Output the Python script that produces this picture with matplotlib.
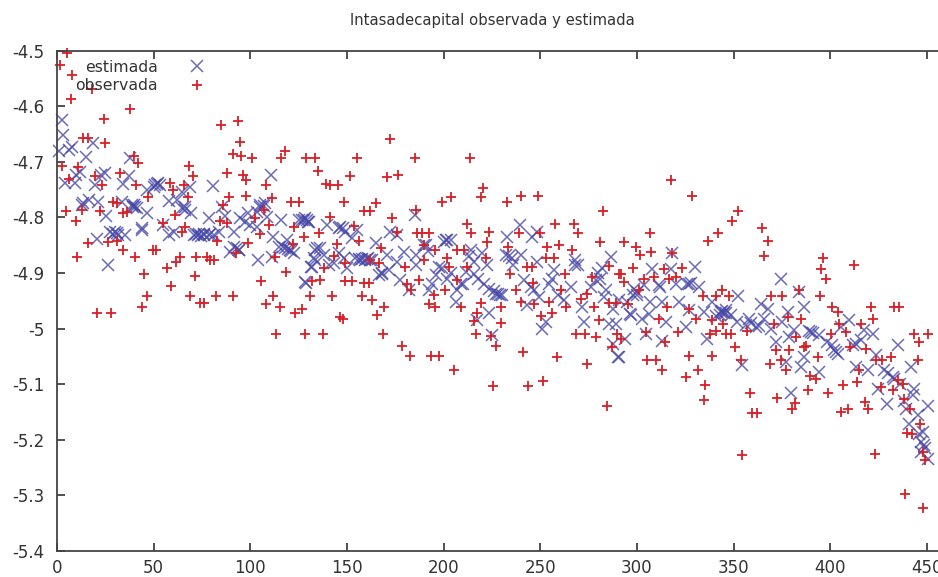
import matplotlib
matplotlib.use('Agg')
import matplotlib.pyplot as plt

# Values, [index, value] per mark
estimada_a = [[2.8,-4.625],[3.3,-4.652],[1.2,-4.68],[6,-4.679],[7.6,-4.674],[15,-4.691],[18.8,-4.666],[38,-4.694],
    [4,-4.739],[9.3,-4.739],[10,-4.724],[12,-4.718],[19.7,-4.742],[23,-4.724],[25,-4.721],[34,-4.74],[37,-4.726],
    [110.7,-4.723],[80.7,-4.744],[46.5,-4.75],[50,-4.745],[52,-4.739],[53.4,-4.741],[69,-4.745],[64.6,-4.754],
    [57.7,-4.77],[62,-4.769],[13.6,-4.774],[16.8,-4.769],[21.4,-4.772],[12.8,-4.778],[25.4,-4.798],[33.5,-4.772],
    [38.7,-4.778],[40.4,-4.781],[41.6,-4.784],[46.5,-4.793],[64.6,-4.784],[66.4,-4.781],[69.3,-4.793],[85.3,-4.781],
    [87,-4.798],[105.2,-4.778],[107.8,-4.775],[103.5,-4.79],[98.6,-4.793],[108.7,-4.799],[116,-4.804],[125,-4.805],
    [128.5,-4.802],[130,-4.808],[94.8,-4.802],[97.4,-4.808],[78.4,-4.802],[27.5,-4.826],[30,-4.826],[31.8,-4.832],
    [35.2,-4.832],[20.5,-4.839],[43.9,-4.82],[55,-4.814],[57.7,-4.832],[60.3,-4.826],[71,-4.832],[73.2,-4.832],
    [75.8,-4.832],[78.4,-4.832],[81,-4.832],[83.6,-4.826],[91.4,-4.826],[100,-4.814],[103.5,-4.817],[112,-4.836],
    [119,-4.841],[91.4,-4.853],[94,-4.859],[114.7,-4.853],[118,-4.856],[120.4,-4.859],[122.5,-4.865],[89.3,-4.862],
    [103.8,-4.876],[26.6,-4.886],[111.2,-4.871],[134.5,-4.856],[133.7,-4.877],[131.4,-4.889],[129,-4.918]]
estimada_b = [[127.6,-4.805],[130.2,-4.808],[139.7,-4.814],[146.6,-4.817],[149.2,-4.826],[152.7,-4.838],[155.3,-4.823],
    [164.8,-4.847],[172.5,-4.826],[176,-4.832],[185,-4.796],[190.7,-4.85],[201,-4.841],[203.6,-4.841],[214,-4.859],
    [220,-4.864],[233,-4.836],[239.5,-4.814],[246,-4.835],[248.5,-4.826],[133.7,-4.859],[136.3,-4.856],[132.8,-4.874],
    [138,-4.868],[145.8,-4.865],[148.4,-4.874],[143.2,-4.883],[132,-4.889],[140.6,-4.886],[150,-4.892],[154.4,-4.874],
    [157,-4.876],[159.6,-4.876],[162,-4.876],[166.5,-4.904],[168.2,-4.901],[170.8,-4.868],[171.7,-4.895],[176,-4.88],
    [179.4,-4.862],[185.5,-4.868],[185.5,-4.886],[177.7,-4.913],[182,-4.931],[194,-4.919],[197.6,-4.889],[195.9,-4.904],
    [192.4,-4.931],[201.9,-4.91],[207,-4.931],[208.8,-4.919],[206.2,-4.952],[211.4,-4.898],[215.7,-4.88],[222.6,-4.886],
    [215.7,-4.901],[220.9,-4.919],[223.5,-4.928],[227,-4.937],[230.4,-4.94],[223.5,-4.972],[217.4,-4.985],[225.2,-5.012],
    [232.1,-4.868],[235.6,-4.874],[239.9,-4.868],[248.5,-4.88],[241.6,-4.913],[245,-4.925],[249.4,-4.943],[243.3,-4.958],
    [254.6,-4.919],[257.2,-4.895],[265.8,-4.925],[262.3,-4.949],[252.8,-4.988],[251.1,-5.0],[267.9,-4.877],[269.3,-4.886],
    [272.7,-4.988],[271.8,-4.961],[278.8,-4.913],[282.2,-4.892],[286.5,-4.871],[283,-4.943],[287.4,-4.964],[285.7,-4.991],
    [289,-4.991],[287.4,-5.027],[290,-5.051],[128.5,-4.916],[276.2,-4.925]]
estimada_c = [[318.3,-4.865],[308,-4.893],[330,-4.89],[317.5,-4.893],[311.4,-4.922],[320.4,-4.919],[327,-4.919],[332,-4.925],
    [298.5,-4.928],[300.2,-4.94],[303.7,-4.922],[295,-4.952],[290.7,-4.949],[307,-4.952],[313,-4.952],[321.8,-4.952],
    [327,-4.967],[306.2,-4.973],[296.7,-4.973],[302.8,-4.982],[314.9,-4.988],[325.2,-4.997],[304.5,-5.009],[313.2,-5.022],
    [294,-5.018],[290.7,-5.051],[334.7,-4.97],[339,-4.952],[343.4,-4.97],[346,-4.967],[348.6,-4.976],[352.4,-4.942],
    [352,-4.988],[356.3,-4.994],[358,-4.982],[361.5,-4.997],[336.5,-5.018],[364,-4.955],[367.6,-4.964],[365.8,-4.982],
    [369.3,-5.0],[374.8,-4.911],[384,-4.934],[386.6,-4.962],[375.3,-4.988],[371.9,-5.024],[381.4,-5.003],[378.8,-5.015],
    [378,-4.97],[390,-5.006],[394.3,-5.012],[398.6,-5.024],[403,-5.042],[386.6,-5.051],[384.8,-5.07],[377,-5.06],
    [354.6,-5.066],[394.3,-5.078],[379.6,-5.115],[410,-4.985],[405.6,-4.997],[422,-5.009],[417.7,-5.003],[413.3,-5.027],
    [435,-5.03],[441.8,-5.07],[419.4,-5.075],[413.3,-5.069],[423.7,-5.048],[428,-5.075],[432.3,-5.087],[424.5,-5.108],
    [443.6,-5.108],[429.4,-5.136],[439.2,-5.144],[450.5,-5.139],[445.3,-5.156],[441,-5.172],[447.9,-5.186],[447,-5.204],
    [448.7,-5.21],[447,-5.222],[450.5,-5.234]]
# marks that sit on top of one another inside the dense band
estimada_d = [[50.5,-4.742],[51.5,-4.74],[44,-4.822],[73.5,-4.83],[76,-4.83],[74.5,-4.833],[72,-4.83],[79,-4.83],
    [31,-4.828],[29,-4.83],[40,-4.778],[39.5,-4.782],[66,-4.786],[94,-4.858],[93,-4.855],[105,-4.782],[107,-4.78],
    [117,-4.853],[119.5,-4.857],[121,-4.86],[127,-4.805],[129.5,-4.804],[158,-4.875],[160.5,-4.875],[163,-4.877],
    [161,-4.874],[156,-4.875],[146,-4.82],[148,-4.82],[190,-4.85],[192,-4.86],[168,-4.9],[200,-4.845],[202,-4.84],
    [199,-4.892],[204,-4.9],[213,-4.87],[218,-4.91],[226,-4.932],[228,-4.938],[229,-4.94],[210,-4.92],[234,-4.87],
    [236,-4.885],[247,-4.93],[256,-4.91],[259,-4.94],[268,-4.885],[280,-4.9],[281,-4.91],[284,-4.93],[298,-4.94],
    [300,-4.935],[297,-4.975],[312,-4.925],[326,-4.92],[328,-4.918],[344,-4.968],[345,-4.972],[343,-4.975],[346,-4.972],
    [341,-4.977],[359,-4.99],[363,-4.995],[389,-5.005],[391,-5.008],[401,-5.03],[404,-5.045],[402,-5.038],[416,-5.02],
    [412,-5.03],[430,-5.08],[433,-5.09],[436,-5.1],[438,-5.13],[443,-5.12],[446,-5.19],[449,-5.215]]

observada_a = [[5,-4.504],[1.5,-4.526],[8,-4.544],[18,-4.57],[7,-4.588],[24.5,-4.624],[38,-4.606],[85,-4.634],[93.6,-4.627],
    [94.5,-4.665],[13.6,-4.658],[16,-4.658],[25,-4.667],[40,-4.69],[42,-4.703],[2.4,-4.708],[11,-4.709],[91,-4.686],
    [95,-4.69],[101,-4.694],[116,-4.694],[118,-4.68],[68.5,-4.708],[70.6,-4.726],[88,-4.721],[96,-4.723],[98,-4.732],
    [32.6,-4.721],[19.7,-4.726],[6.4,-4.731],[23.5,-4.742],[41,-4.742],[58.5,-4.739],[65.5,-4.742],[108,-4.742],[47,-4.763],
    [60,-4.75],[67.7,-4.763],[89,-4.763],[98,-4.761],[111,-4.766],[121,-4.772],[125,-4.772],[86,-4.778],[29,-4.772],
    [31,-4.774],[4.5,-4.789],[13,-4.787],[22,-4.789],[34,-4.792],[36,-4.79],[10,-4.806],[61,-4.796],[107,-4.787],
    [102.6,-4.802],[84.5,-4.806],[88,-4.81],[55,-4.81],[109.5,-4.814],[122.5,-4.817],[66,-4.817],[64.6,-4.826],[105,-4.83],
    [16,-4.847],[26.6,-4.844],[31,-4.842],[34,-4.858],[82.7,-4.842],[99,-4.847],[122,-4.848],[49.6,-4.858],[51,-4.858],
    [10.5,-4.872],[40.4,-4.872],[63.7,-4.872],[61.5,-4.881],[72,-4.872],[77.5,-4.872],[79,-4.877],[81,-4.876],[92.7,-4.864],
    [113,-4.872],[56.8,-4.892],[45,-4.901],[71.5,-4.905],[105.5,-4.915],[118.6,-4.898],[59,-4.923],[46.5,-4.941],[69,-4.941],
    [74,-4.954],[76,-4.954],[82.4,-4.941],[91,-4.941],[112,-4.941],[108,-4.956],[44,-4.962],[115.5,-4.962],[123,-4.972],
    [20.5,-4.972],[28,-4.972],[113.5,-5.01]]
observada_b = [[172.5,-4.66],[129,-4.694],[133.3,-4.694],[155,-4.694],[185,-4.694],[213.5,-4.694],[135,-4.716],[151.8,-4.726],
    [170.5,-4.727],[176.3,-4.724],[139,-4.74],[141.4,-4.742],[145.4,-4.742],[220.4,-4.748],[219.5,-4.763],[204,-4.763],
    [199.3,-4.772],[148.4,-4.772],[164.8,-4.774],[158.7,-4.788],[162,-4.788],[185.8,-4.787],[232.6,-4.772],[240,-4.762],
    [249,-4.762],[282.7,-4.788],[141,-4.8],[173.4,-4.802],[212,-4.812],[257.5,-4.812],[267.5,-4.812],[153.5,-4.816],
    [176,-4.826],[186.4,-4.829],[189,-4.829],[192.4,-4.829],[214.3,-4.829],[223.5,-4.827],[239,-4.829],[250,-4.829],
    [269.8,-4.829],[135.4,-4.829],[128,-4.835],[156,-4.842],[222.6,-4.844],[281,-4.844],[144.9,-4.848],[189.8,-4.85],
    [167.4,-4.856],[253.7,-4.854],[259.8,-4.85],[266.7,-4.858],[195.8,-4.858],[207,-4.858],[210.5,-4.858],[233.3,-4.854],
    [143.2,-4.87],[190,-4.876],[201.9,-4.874],[221.8,-4.874],[252.8,-4.874],[257,-4.874],[162,-4.877],[166.5,-4.883],
    [138,-4.892],[149,-4.883],[180.3,-4.89],[202.8,-4.89],[212.3,-4.89],[243.3,-4.889],[246,-4.889],[285.7,-4.888],
    [234.4,-4.901],[263,-4.901],[291,-4.901],[277,-4.907],[132,-4.914],[136.3,-4.913],[149,-4.914],[152.7,-4.914],
    [158.7,-4.918],[161.3,-4.918],[187.2,-4.913],[181,-4.919],[207,-4.913],[246.5,-4.918],[183,-4.931],[200.5,-4.931],
    [237.3,-4.93],[130.7,-4.941],[142.3,-4.941],[157.8,-4.941],[195,-4.94],[261,-4.931],[274.4,-4.937],[163,-4.949],
    [239.9,-4.952],[246.8,-4.955],[254.6,-4.952],[271,-4.946],[285.7,-4.954],[289,-4.954],[126.8,-4.964],[169.4,-4.962],
    [192.4,-4.955],[195.8,-4.962],[208.8,-4.962],[219.2,-4.954],[229.5,-4.962],[263.2,-4.962],[277.9,-4.962],[165.6,-4.976],
    [146.6,-4.979],[148,-4.982],[217.4,-4.972],[250.3,-4.978],[256.3,-4.972],[215.7,-4.986],[229.5,-4.99],[280.5,-4.984],
    [128.5,-5.01],[137.6,-5.01],[168.7,-5.01],[216.6,-5.01],[224.7,-5.013],[268.4,-5.01],[273,-5.01],[278.8,-5.015],
    [289.6,-5.01],[178.6,-5.031],[227,-5.031],[287,-5.034],[182.5,-5.049],[193.3,-5.049],[197.6,-5.049],[241.3,-5.043],
    [258.9,-5.051],[205.3,-5.075],[274,-5.064],[225.7,-5.103],[243.7,-5.103],[251.5,-5.094],[284.5,-5.139]]
observada_c = [[317.5,-4.732],[328.3,-4.762],[352.5,-4.788],[349.4,-4.807],[364.6,-4.82],[342,-4.828],[337,-4.842],[368,-4.842],
    [306.8,-4.828],[293.3,-4.844],[299.7,-4.853],[307.5,-4.863],[301.4,-4.868],[318.3,-4.865],[365.8,-4.869],[396.4,-4.874],
    [412.5,-4.885],[395.2,-4.893],[298,-4.892],[314,-4.893],[323.5,-4.892],[291.6,-4.901],[398,-4.911],[303.7,-4.91],
    [308.8,-4.908],[316.6,-4.91],[320,-4.907],[293.3,-4.916],[344,-4.931],[301,-4.931],[384,-4.931],[334,-4.942],[340.8,-4.942],
    [347.7,-4.942],[369.3,-4.942],[375.3,-4.942],[394.7,-4.942],[295.5,-4.955],[315.4,-4.961],[327,-4.964],[401.2,-4.961],
    [421,-4.961],[433,-4.961],[435.4,-4.961],[404,-4.97],[422,-4.983],[311.4,-4.983],[330.8,-4.983],[384.8,-4.983],[378,-4.979],
    [339,-4.985],[371,-4.992],[404.7,-4.992],[416,-4.992],[344.6,-4.991],[321.4,-5.007],[304.5,-5.007],[340.8,-5.004],[338,-5.01],
    [346,-5.01],[348.6,-5.01],[357,-5.004],[400.4,-5.009],[408,-5.006],[443.5,-5.01],[450.5,-5.01],[292,-5.018],[314.5,-5.024],
    [445.8,-5.025],[382.2,-5.015],[410.4,-5.033],[351,-5.034],[386.6,-5.033],[371.9,-5.039],[378.8,-5.039],[387.4,-5.032],
    [418.5,-5.036],[327,-5.05],[338.7,-5.049],[393.5,-5.051],[423.7,-5.056],[427,-5.056],[431.5,-5.051],[305.4,-5.057],[310,-5.057],
    [353.7,-5.057],[374.5,-5.057],[369,-5.064],[445.3,-5.057],[313,-5.075],[331.8,-5.075],[377.4,-5.075],[414.7,-5.075],
    [325.2,-5.087],[389.5,-5.086],[392.6,-5.091],[413.7,-5.096],[335.3,-5.102],[406.4,-5.102],[426.3,-5.105],[435,-5.093],
    [437.5,-5.099],[432.7,-5.11],[388.3,-5.11],[399,-5.115],[358.4,-5.115],[372.4,-5.124],[334.7,-5.129],[438,-5.126],[418.2,-5.132],
    [381.9,-5.133],[380.2,-5.144],[419.4,-5.144],[409,-5.144],[405.6,-5.15],[359.8,-5.151],[361.9,-5.151],[441.3,-5.144],
    [446.5,-5.172],[440,-5.187],[442.3,-5.19],[423,-5.226],[354.6,-5.228],[449.3,-5.237],[438.7,-5.298],[448,-5.322],[447.9,-5.222]]

x_ticks = [0, 50, 100, 150, 200, 250, 300, 350, 400, 450]
y_ticks = [-5.4, -5.3, -5.2, -5.1, -5, -4.9, -4.8, -4.7, -4.6, -4.5]
y_labels = ['-5.4', '-5.3', '-5.2', '-5.1', '-5', '-4.9', '-4.8', '-4.7', '-4.6', '-4.5']

estimada = estimada_a + estimada_b + estimada_c + estimada_d
observada = observada_a + observada_b + observada_c

fig = plt.figure(figsize=(9.38, 5.77), dpi=100)
ax = fig.add_axes([57/938, 1-551/577, 881/938, 500.5/577])

ax.plot([p[0] for p in estimada], [p[1] for p in estimada], 'x', color='#4646a8', alpha=0.8,
        ms=8.5, mew=1.1, clip_on=False, label='estimada')
ax.plot([p[0] for p in observada], [p[1] for p in observada], '+', color='#d81f26',
        ms=7.5, mew=1.3, clip_on=False, label='observada')

ax.set_xlim(0, 455.8)
ax.set_ylim(-5.4, -4.5)
ax.set_xticks(x_ticks)
ax.set_yticks(y_ticks)
ax.set_yticklabels(y_labels)
ax.tick_params(direction='in', length=6, width=1.2, color='#333333', labelsize=12,
               labelcolor='#333333', top=True)
ax.tick_params(axis='y', pad=9)
ax.tick_params(axis='x', pad=6)
for side in ['left', 'bottom', 'top']:
    ax.spines[side].set_linewidth(1.3)
    ax.spines[side].set_color('#444444')
ax.spines['right'].set_visible(False)

ax.set_title('lntasadecapital observada y estimada', fontsize=10.7, color='#333333', x=0.494, y=1.0, pad=18)
ax.legend(loc='upper left', bbox_to_anchor=(0.008, 1.003), frameon=False, markerfirst=False, fontsize=11.3,
          labelcolor='#333333', labelspacing=0.2, handletextpad=1.0, handlelength=3.0, borderaxespad=0.3)

plt.savefig('out.png', dpi=100)
